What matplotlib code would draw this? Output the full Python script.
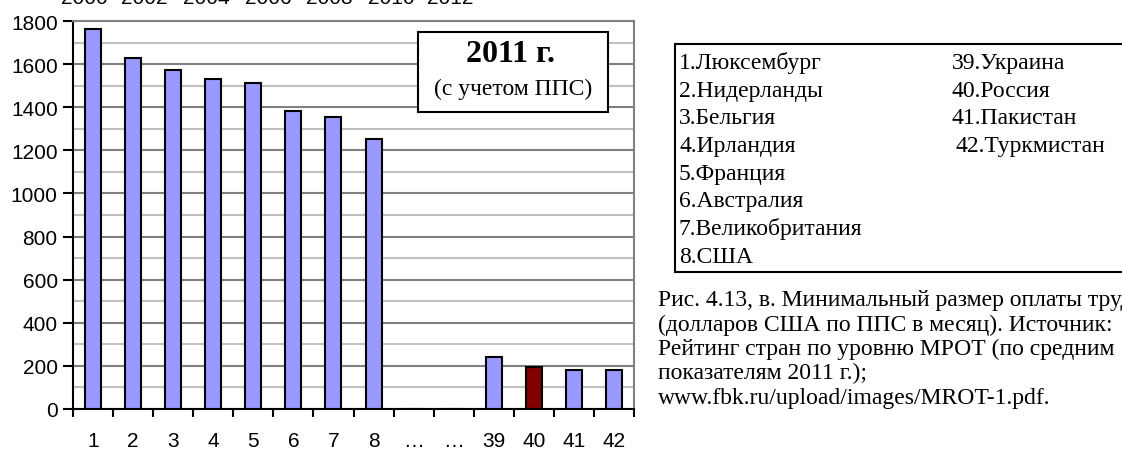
import matplotlib.pyplot as plt
from matplotlib.patches import Rectangle

# Data
categories = ['1', '2', '3', '4', '5', '6', '7', '8', '…', '…', '39', '40', '41', '42']
values = [1765, 1627, 1571, 1532, 1514, 1384, 1356, 1253, 0, 0, 240, 193, 182, 182]
highlight = '40'

countries_left = ['1.Люксембург', '2.Нидерланды', '3.Бельгия', '4.Ирландия',
                  '5.Франция', '6.Австралия', '7.Великобритания', '8.США']
countries_right = ['39.Украина', '40.Россия', '41.Пакистан', '42.Туркмистан']
caption = ['Рис. 4.13, в. Минимальный размер оплаты труда',
           '(долларов США по ППС в месяц). Источник:',
           'Рейтинг стран по уровню МРОТ (по средним',
           'показателям 2011 г.);',
           'www.fbk.ru/upload/images/MROT-1.pdf.']
top_years = ['2000', '2002', '2004', '2006', '2008', '2010', '2012']

W, H = 1122, 452
fig = plt.figure(figsize=(W / 100, H / 100), dpi=100)

def fx(px):
    return px / W

def fy(py):
    return 1 - py / H

ax = fig.add_axes([fx(73), fy(410), fx(634) - fx(73), fy(22) - fy(410)])

x = list(range(len(categories)))
colors = ['#800000' if c == highlight else '#9999ff' for c in categories]
ax.bar(x, values, width=0.4, color=colors, edgecolor='black', linewidth=1.5, zorder=3)

ax.set_xlim(-0.5, len(categories) - 0.5)
ax.set_ylim(0, 1800)
ax.set_yticks(range(0, 1801, 200))
ax.set_yticks(range(100, 1800, 200), minor=True)
ax.set_xticks(x)
ax.set_xticklabels(categories)
ax.set_xticks([i - 0.5 for i in range(len(categories) + 1)], minor=True)

ax.grid(True, which='major', axis='y', color='#808080', linewidth=1.5, zorder=0)
ax.grid(True, which='minor', axis='y', color='#c0c0c0', linewidth=1.5, zorder=0)

for lab in ax.get_xticklabels() + ax.get_yticklabels():
    lab.set_family('Liberation Sans')
    lab.set_fontsize(15)

ax.tick_params(axis='y', which='major', length=7, width=1.5, pad=4, direction='out')
ax.tick_params(axis='y', which='minor', length=0)
ax.tick_params(axis='x', which='major', length=0, pad=16)
ax.tick_params(axis='x', which='minor', length=6, width=1.5, direction='out')

for s in ['left', 'bottom']:
    ax.spines[s].set_color('black')
    ax.spines[s].set_linewidth(1.5)
for s in ['top', 'right']:
    ax.spines[s].set_color('#808080')
    ax.spines[s].set_linewidth(1.5)

# cropped years line at the very top
year_centers = [84, 144, 206, 268, 329, 391, 450]
for yr, cx in zip(top_years, year_centers):
    fig.text(fx(cx), fy(3.5), yr, ha='center', va='baseline',
             fontsize=15, family='Liberation Sans')

# "2011 г." box
fig.patches.append(Rectangle((fx(418), fy(113)), fx(608) - fx(418), fy(33) - fy(113),
                             transform=fig.transFigure, facecolor='white',
                             edgecolor='black', linewidth=1.5, zorder=5))
fig.text(fx(510), fy(55), '2011 г.', ha='center', va='center', fontsize=23,
         fontweight='bold', family='Liberation Serif', zorder=6)
fig.text(fx(513), fy(89), '(с учетом ППС)', ha='center', va='center', fontsize=17,
         family='Liberation Serif', zorder=6)

# legend box with country names
fig.patches.append(Rectangle((fx(675), fy(273)), fx(1130) - fx(675), fy(45) - fy(273),
                             transform=fig.transFigure, facecolor='white',
                             edgecolor='black', linewidth=1.5, clip_on=False))
for i, name in enumerate(countries_left):
    fig.text(fx(679), fy(69 + 27.7 * i), name, ha='left', va='baseline',
             fontsize=17, family='Liberation Serif')
for i, name in enumerate(countries_right):
    fig.text(fx(952 if i < 3 else 955), fy(69 + 27.7 * i), name, ha='left', va='baseline',
             fontsize=17, family='Liberation Serif')

for i, line in enumerate(caption):
    fig.text(fx(658), fy(306 + 24.5 * i), line, ha='left', va='baseline',
             fontsize=17, family='Liberation Serif')

fig.savefig('out.png', dpi=100)
